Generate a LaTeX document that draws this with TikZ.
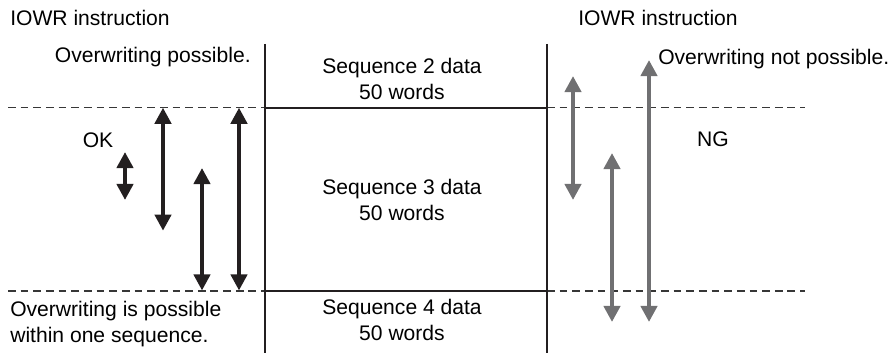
\documentclass[tikz,border=0pt]{standalone}
\usepackage{fontspec}
\setmainfont{Liberation Sans}
\usetikzlibrary{arrows.meta}
\definecolor{LineClr}{RGB}{35,31,32}
\definecolor{NgClr}{RGB}{112,112,114}
\definecolor{DashClr}{RGB}{55,55,55}

\begin{document}
\begin{tikzpicture}[x=0.025cm,y=-0.025cm,
  txt/.style={inner sep=0pt,font=\fontsize{15}{18.5}\selectfont},
  wall/.style={line width=1.6pt,color=LineClr},
  limit/.style={line width=1.1pt,color=DashClr,dash pattern=on 5.5pt off 3.5pt},
  okarr/.style={line width=3pt,color=LineClr,
    {Triangle[width=11.5pt,length=11.5pt]}-{Triangle[width=11.5pt,length=11.5pt]}},
  ngarr/.style={okarr,color=NgClr}]
\useasboundingbox (0,0) rectangle (892,353);

% block boundaries
\coordinate (WL) at (265,44);  \coordinate (BL) at (265,353);
\coordinate (WR) at (547,44);  \coordinate (BR) at (547,353);
\coordinate (U0) at (8,107.7);  \coordinate (U1) at (265,107.7);
\coordinate (U2) at (547,107.7); \coordinate (U3) at (805,107.7);
\coordinate (L0) at (8,291);    \coordinate (L1) at (265,291);
\coordinate (L2) at (547,291);  \coordinate (L3) at (805,291);

\draw[limit] (U0) -- (U1) (L0) -- (L1) (U2) -- (U3) (L2) -- (L3);
\draw[wall] (WL) -- (BL) (WR) -- (BR) (U1) -- (U2) (L1) -- (L2);

% write ranges
\foreach \x/\ya/\yb in {125/152/200,163/107.7/230.7,202/168/290.5,239/107.7/290.5}
  \draw[okarr] (\x,\ya) -- (\x,\yb);
\foreach \x/\ya/\yb in {573/76/200,612/153/322,649/60/322}
  \draw[ngarr] (\x,\ya) -- (\x,\yb);

% labels
\node[txt,anchor=base west] (iowrL) at (10,26) {IOWR instruction};
\node[txt,anchor=base west] (iowrR) at (578,26) {IOWR instruction};
\node[txt,anchor=base east] (okTop) at (251,63) {Overwriting possible.};
\node[txt,anchor=base west] (ngTop) at (658,65) {Overwriting not possible.};
\node[txt,anchor=base] (ok) at (98,148) {OK};
\node[txt,anchor=base] (ng) at (713,147) {NG};
\node[txt,align=left,anchor=west] (okBot) at (10,324.2)
  {Overwriting is possible\\within one sequence.};

\node[txt,align=center] (seq2) at (402,78.6) {Sequence 2 data\\50 words};
\node[txt,align=center] (seq3) at (402,199.5) {Sequence 3 data\\50 words};
\node[txt,align=center] (seq4) at (402,320.3) {Sequence 4 data\\50 words};

\end{tikzpicture}
\end{document}
